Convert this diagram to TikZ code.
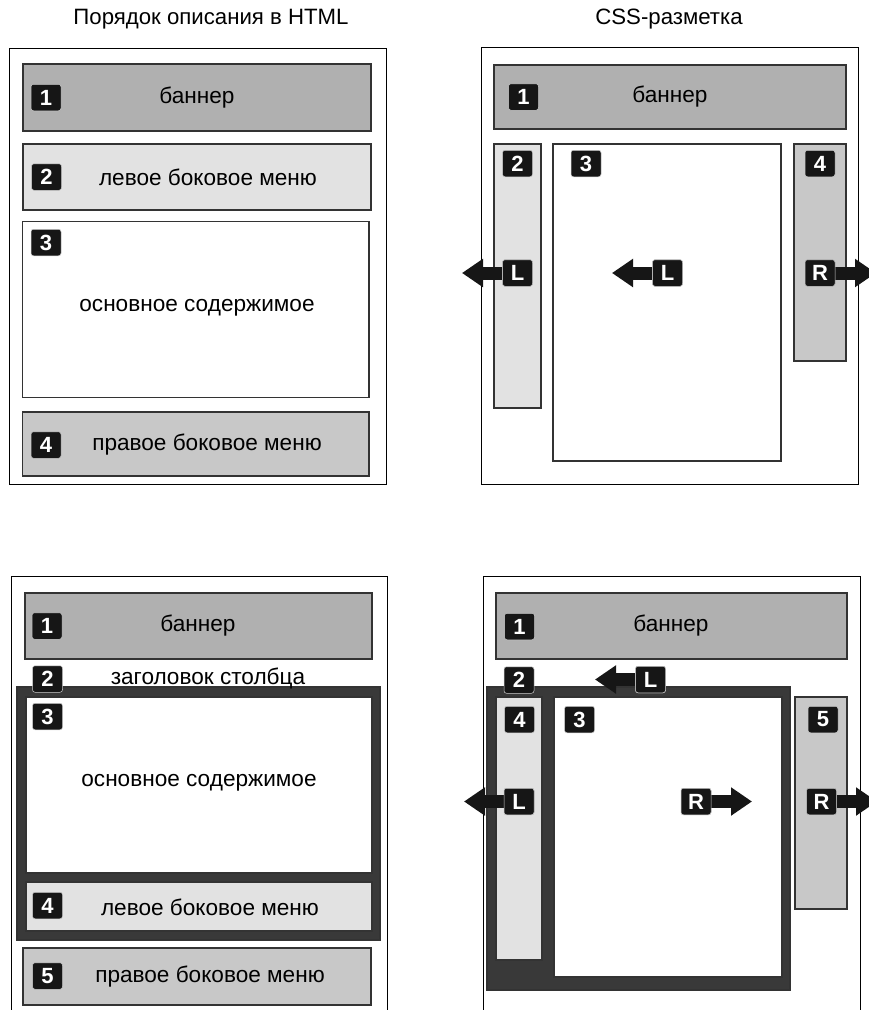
\documentclass[tikz,border=0pt]{standalone}
\usepackage{fontspec}
\setmainfont{Liberation Sans}
\usetikzlibrary{fit,arrows.meta}
\definecolor{bannergray}{HTML}{B0B0B0}
\definecolor{lightgray}{HTML}{E2E2E2}
\definecolor{midgray}{HTML}{C8C8C8}
\definecolor{darkgray}{HTML}{393939}
\definecolor{edgegray}{HTML}{333333}
\definecolor{badgeblack}{HTML}{161616}
\begin{document}
\begin{tikzpicture}[x=1pt,y=-1pt,
  frame/.style={draw=black,line width=1pt},
  area/.style={draw=edgegray,line width=1.2pt,inner sep=0pt},
  banner/.style={area,fill=bannergray,fit={#1}},
  lightbox/.style={area,fill=lightgray,fit={#1}},
  midbox/.style={area,fill=midgray,fit={#1}},
  whitebox/.style={area,fill=white,fit={#1}},
  darkbox/.style={area,fill=darkgray,fit={#1}},
  badge/.style={rectangle,rounded corners=2.5pt,fill=badgeblack,draw=white!80!black,
    line width=0.5pt,text=white,font=\fontsize{22}{22}\selectfont\bfseries,
    minimum width=30pt,minimum height=26.5pt,inner sep=0pt},
  lbl/.style={font=\fontsize{22.6}{25}\selectfont,inner sep=0pt},
  title/.style={font=\fontsize{22.2}{25}\selectfont,inner sep=0pt},
  push/.style={draw=badgeblack,line width=13pt,
    -{Triangle[length=21pt,width=27pt]}}
]
\useasboundingbox (0,0) rectangle (869,1010);

% ---------- titles ----------
\node[title] (tHTML) at (211,19) {Порядок описания в HTML};
\node[title] (tCSS) at (669,19) {CSS-разметка};

% ---------- top left: source order ----------
\draw[frame] (9,48) rectangle (386,484);
\node[banner={(23,64) (371,131)}] (a1) {};
\node[badge] (a1n) at (46,97.5) {1};
\node[lbl] at (197,98) {баннер};
\node[lightbox={(23,144) (371,210)}] (a2) {};
\node[badge] (a2n) at (46.5,177) {2};
\node[lbl] at (208,177) {левое боковое меню};
\node[whitebox={(22.5,221.5) (369,397.5)}] (a3) {};
\node[badge] (a3n) at (46,242.5) {3};
\node[lbl] at (197,308) {основное содержимое};
\node[midbox={(22.5,412) (369,476)}] (a4) {};
\node[badge] (a4n) at (46,445) {4};
\node[lbl] at (207,445) {правое боковое меню};

% ---------- top right: CSS layout ----------
\draw[frame] (481,47) rectangle (858,484);
\node[banner={(494,65) (846,129)}] (b1) {};
\node[badge] (b1n) at (523.5,97) {1};
\node[lbl] at (670,97) {баннер};
\node[lightbox={(494,144) (541,408)}] (b2) {};
\node[badge] (b2n) at (517.5,163.5) {2};
\node[whitebox={(553,144) (781,461)}] (b3) {};
\node[badge] (b3n) at (586,163.5) {3};
\node[midbox={(794,144) (846,361)}] (b4) {};
\node[badge] (b4n) at (820,163.5) {4};
% float markers
\coordinate (bL1tip) at (462,273);
\coordinate (bL2tip) at (612,273);
\coordinate (bRtip) at (876,273);
\node[badge] (bL1) at (517.5,273) {L};
\node[badge] (bL2) at (667.5,273) {L};
\node[badge] (bR) at (820,273) {R};
\draw[push] (bL1.west) -- (bL1tip);
\draw[push] (bL2.west) -- (bL2tip);
\draw[push] (bR.east) -- (bRtip);
\node[badge] at (bL1) {L};
\node[badge] at (bL2) {L};
\node[badge] at (bR) {R};

% ---------- bottom left: source order with wrapper ----------
\draw[frame] (11,1020) -- (11,576) -- (387,576) -- (387,1020);
\node[banner={(25,593) (372,659)}] (c1) {};
\node[badge] (c1n) at (47,626) {1};
\node[lbl] at (198,626) {баннер};
\node[darkbox={(17,687) (380,940)}] (cw) {};
\node[badge] (c2n) at (47.5,679) {2};
\node[lbl] at (208,678) {заголовок столбца};
\node[whitebox={(26,697) (372,873)}] (c3) {};
\node[badge] (c3n) at (47.5,716.5) {3};
\node[lbl] at (199,783) {основное содержимое};
\node[lightbox={(26,882) (372,931)}] (c4) {};
\node[badge] (c4n) at (47.5,905.5) {4};
\node[lbl] at (210,907) {левое боковое меню};
\node[midbox={(23,948) (371,1005)}] (c5) {};
\node[badge] (c5n) at (47.5,976) {5};
\node[lbl] at (210,977) {правое боковое меню};

% ---------- bottom right: CSS layout with wrapper ----------
\draw[frame] (483,1020) -- (483,576) -- (860,576) -- (860,1020);
\node[banner={(496,593) (847,659)}] (d1) {};
\node[badge] (d1n) at (519.5,626.5) {1};
\node[lbl] at (671,626) {баннер};
\node[darkbox={(487,687) (790,990)}] (dw) {};
\node[badge] (d2n) at (519,680) {2};
\node[lightbox={(496,697) (542,960)}] (d4) {};
\node[badge] (d4n) at (519.5,719.5) {4};
\node[whitebox={(554,697) (782,977)}] (d3) {};
\node[badge] (d3n) at (579.5,719.5) {3};
\node[midbox={(795,697) (847,909)}] (d5) {};
\node[badge] (d5n) at (823,719.5) {5};
% float markers
\coordinate (dLtoptip) at (595,679.5);
\coordinate (dL1tip) at (464,801.5);
\coordinate (dR1tip) at (752,801.5);
\coordinate (dR2tip) at (877,801.5);
\node[badge] (dLtop) at (650.5,679.5) {L};
\node[badge] (dL1) at (519,801.5) {L};
\node[badge] (dR1) at (696,801.5) {R};
\node[badge] (dR2) at (821.5,801.5) {R};
\draw[push] (dLtop.west) -- (dLtoptip);
\draw[push] (dL1.west) -- (dL1tip);
\draw[push] (dR1.east) -- (dR1tip);
\draw[push] (dR2.east) -- (dR2tip);
\node[badge] at (dLtop) {L};
\node[badge] at (dL1) {L};
\node[badge] at (dR1) {R};
\node[badge] at (dR2) {R};
\end{tikzpicture}
\end{document}
